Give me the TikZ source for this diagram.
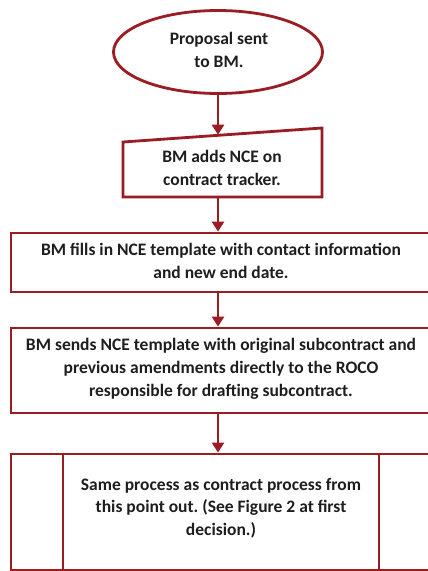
\documentclass[tikz,border=0pt]{standalone}
\usepackage{fontspec}
\setmainfont{Carlito}
\frenchspacing
\usetikzlibrary{arrows.meta,shapes.geometric}
\definecolor{flowred}{RGB}{155,28,34}
\definecolor{flowtext}{RGB}{30,30,30}
\begin{document}
\begin{tikzpicture}[x=1pt,y=-1pt,
  border/.style={draw=flowred,line width=2.8pt,line join=miter},
  label/.style={text=flowtext,font=\bfseries\fontsize{17.5}{22.7}\selectfont,align=center,inner sep=0pt},
  flow/.style={draw=flowred,line width=2.6pt,-{Triangle[length=10pt,width=12pt]}}]
\useasboundingbox (0,0) rectangle (428,571);
\fill[white] (0,0) rectangle (428,571);
\clip (0,0) rectangle (428,571);

% start: proposal sent
\node[ellipse,border,fill=white,minimum width=209pt,minimum height=83pt,inner sep=0pt] (start) at (218,52) {};
\node[label] (startText) at (219,50) {Proposal sent\\to BM.};

% manual input: tracker entry
\draw[border] (123,142) -- (322,128) -- (322,197) -- (123,197) -- cycle;
\coordinate (trackTop) at (218,134.7);
\coordinate (trackBottom) at (218,197);
\node[label] (track) at (222,168) {BM adds NCE on\\contract tracker.};

% template filled in
\node[border,minimum width=422pt,minimum height=59pt,inner sep=0pt] (fill) at (222,262.5) {};
\node[label] (fillText) at (221,261) {BM fills in NCE template with contact information\\and new end date.};

% template sent to ROCO
\node[border,minimum width=422pt,minimum height=85pt,inner sep=0pt] (send) at (222,370.5) {};
\node[label] (sendText) at (221,369) {BM sends NCE template with original subcontract and\\previous amendments directly to the ROCO\\responsible for drafting subcontract.};

% predefined process
\node[border,minimum width=422pt,minimum height=116pt,inner sep=0pt] (same) at (222,512) {};
\draw[border] (63,454) -- (63,570);
\draw[border] (379,454) -- (379,570);
\node[label] (sameText) at (221,508) {Same process as contract process from\\this point out. (See Figure 2 at first\\decision.)};

% connectors
\draw[flow] (start.south) -- (trackTop);
\draw[flow] (trackBottom) -- (trackBottom |- fill.north);
\draw[flow] (fill.south -| trackBottom) -- (trackBottom |- send.north);
\draw[flow] (send.south -| trackBottom) -- (trackBottom |- same.north);
\end{tikzpicture}
\end{document}
